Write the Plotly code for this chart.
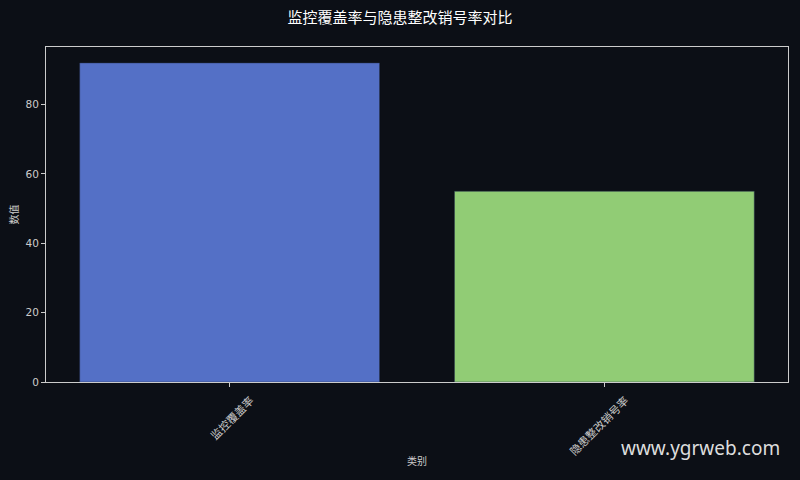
import plotly.graph_objects as go

categories = ["监控覆盖率", "隐患整改销号率"]
values = [92, 55]
colors = ["#5470c6", "#91cc75"]
title_text = "监控覆盖率与隐患整改销号率对比"
x_title = "类别"
y_title = "数值"
y_ticks = [0, 20, 40, 60, 80]

bg = "#0c0f16"
axis_col = "#cccccc"
font_fam = "DejaVu Sans, Noto Sans CJK SC, sans-serif"

fig = go.Figure()
fig.add_trace(go.Bar(
    x=categories, y=values,
    marker=dict(color=colors, line=dict(color="rgba(40,50,80,0.6)", width=0.8)),
    width=0.8,
))

fig.update_layout(
    width=800, height=480,
    paper_bgcolor=bg, plot_bgcolor=bg,
    margin=dict(l=46, r=12, t=47, b=98, autoexpand=False),
    showlegend=False,
    font=dict(family=font_fam, color=axis_col, size=10),
    title=dict(text=title_text, x=0.5, xanchor="center", y=0.962, yanchor="middle",
               font=dict(size=15, color="#ffffff", family="Noto Sans CJK SC, sans-serif")),
    annotations=[dict(text="www.ygrweb.com", xref="paper", yref="paper",
                      x=0.992, y=-0.197, xanchor="right", yanchor="middle",
                      showarrow=False,
                      font=dict(size=19, color="#dddddd", family="Noto Sans, sans-serif"))],
)

fig.update_xaxes(
    type="category", range=[-0.49, 1.49], automargin=False,
    showline=True, mirror=True, linecolor=axis_col, linewidth=1,
    ticks="outside", ticklen=4, tickcolor=axis_col, tickangle=-45,
    ticklabelshift=21, ticklabelstandoff=3,
    showgrid=False, zeroline=False,
    title=dict(text=x_title, font=dict(size=10, color=axis_col), standoff=0),
    tickfont=dict(size=11, color=axis_col),
)
fig.update_yaxes(
    range=[0, 96.6], tickvals=y_ticks, automargin=False,
    showline=True, mirror=True, linecolor=axis_col, linewidth=1,
    ticks="outside", ticklen=4, tickcolor=axis_col,
    showgrid=False, zeroline=False,
    title=dict(text=y_title, font=dict(size=10, color=axis_col), standoff=5),
    tickfont=dict(size=10.5, color=axis_col),
)

fig.write_html("out.html", config={"displayModeBar": False},
               post_script="document.body.style.margin='0';document.body.style.background='%s';" % bg)
